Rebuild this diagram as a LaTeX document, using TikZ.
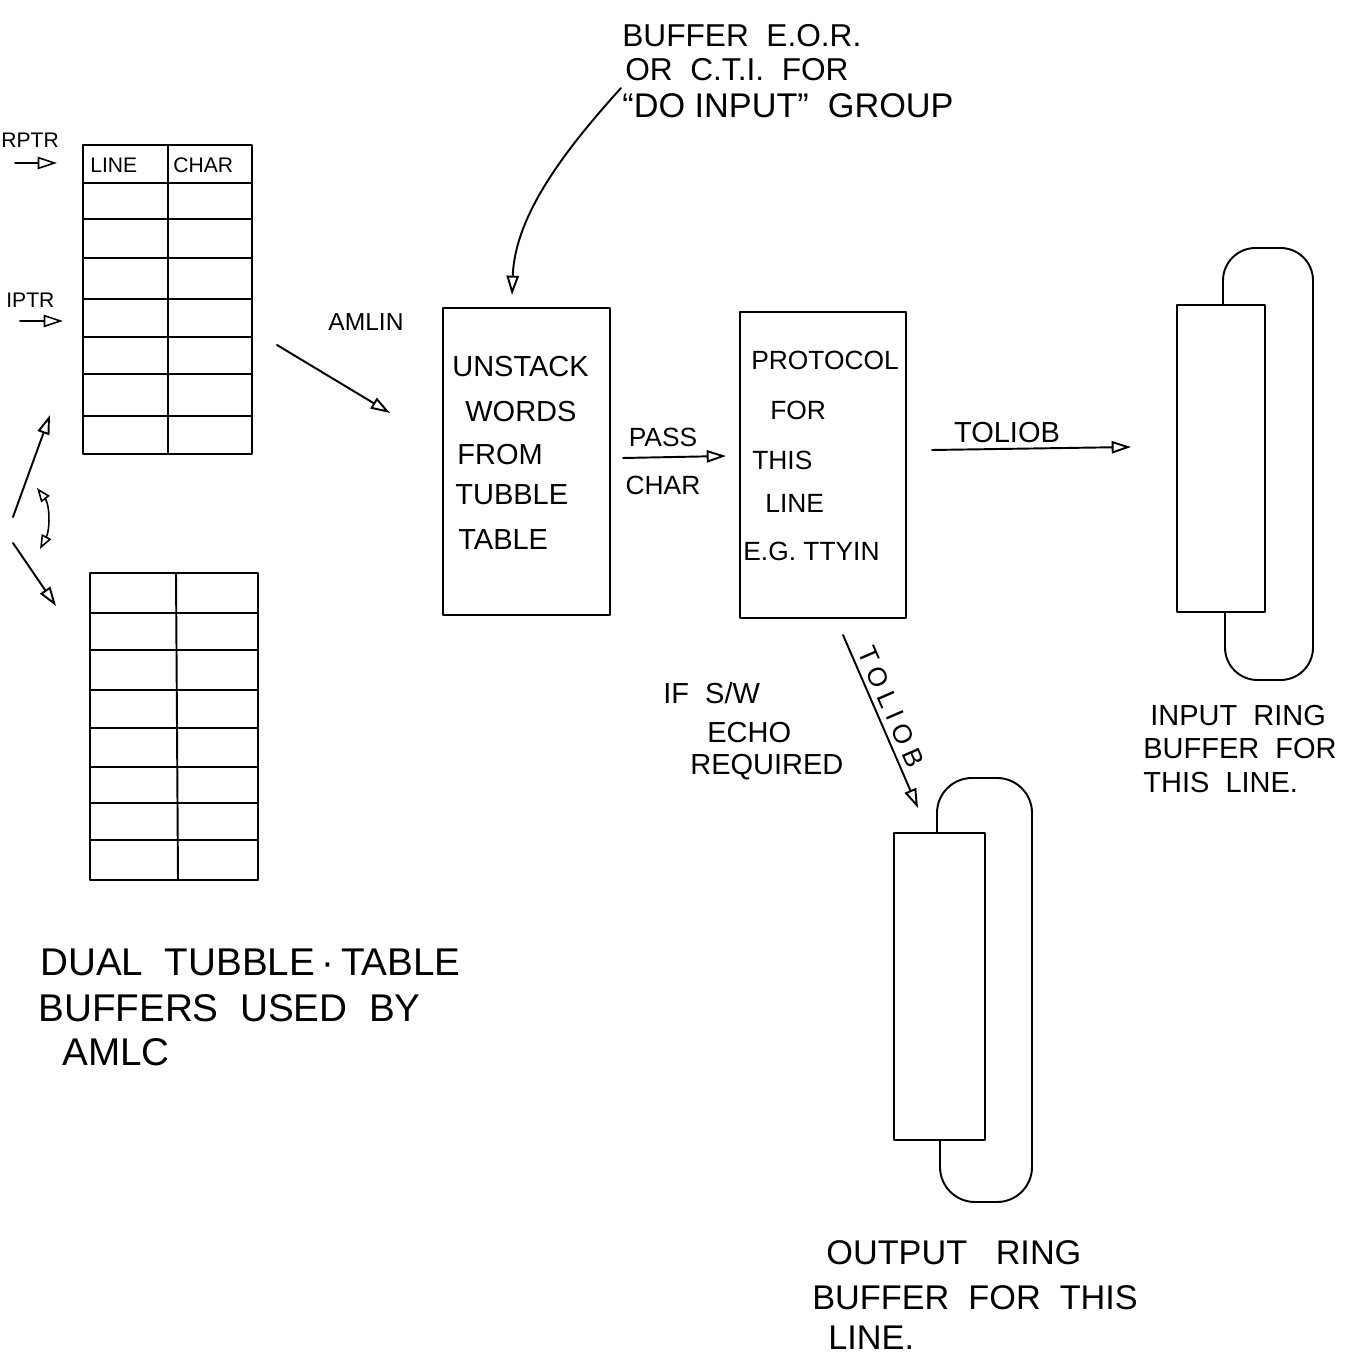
\documentclass[tikz,border=0pt]{standalone}
\usepackage{fontspec}
\setmainfont{Liberation Sans}
\usetikzlibrary{arrows.meta}
\tikzset{
  ink/.style={line width=1.1pt, line cap=round, line join=round},
  thinink/.style={line width=0.9pt, line cap=round},
  hd/.style={-{Triangle[open,length=11pt,width=7pt]}},
  hdd/.style={{Triangle[open,length=8pt,width=6pt]}-{Triangle[open,length=8pt,width=6pt]}},
  procbox/.style={draw, ink, minimum width=3.34cm, minimum height=6.14cm, inner sep=0pt},
  ringbox/.style={draw, ink, fill=white, inner sep=0pt},
  lbl/.style={inner sep=0pt, anchor=west},
  fA/.style={font=\fontsize{12}{14}\selectfont},
  fB/.style={font=\fontsize{14}{16}\selectfont},
  fC/.style={font=\fontsize{15}{18}\selectfont},
  fD/.style={font=\fontsize{16.5}{19}\selectfont},
  fE/.style={font=\fontsize{18}{21}\selectfont},
  fF/.style={font=\fontsize{19.5}{23}\selectfont},
  fG/.style={font=\fontsize{22}{26}\selectfont},
  fS/.style={font=\fontsize{15}{18}\selectfont\addfontfeature{LetterSpace=25}},
}
\begin{document}
\begin{tikzpicture}[x=0.02cm,y=-0.02cm]
\useasboundingbox (0,0) rectangle (1347,1364);

% ---------- top tubble table ----------
\draw[ink] (83,145) rectangle (252,454);
\draw[ink] (168,145) -- (168,454);
\foreach \yy in {183,219,258,299,337,374,416}
  \draw[ink] (83,\yy) -- (252,\yy);
\node[lbl,fA] (hline) at (90,165) {LINE};
\node[lbl,fA] (hchar) at (173,165) {CHAR};

% pointers
\node[lbl,fA] (rptr) at (1,140) {RPTR};
\coordinate (rpa) at (15,163);
\coordinate (rpb) at (57,163);
\draw[thinink,hd] (rpa) -- (rpb);
\node[lbl,fA] (iptr) at (6,300) {IPTR};
\coordinate (ipa) at (20,321);
\coordinate (ipb) at (63,321);
\draw[thinink,hd] (ipa) -- (ipb);

% ---------- bottom tubble table ----------
\draw[ink] (90,573) rectangle (258,880);
\draw[ink] (176,573) -- (178,880);
\foreach \yy in {613,650,690,728,767,803,840}
  \draw[ink] (90,\yy) -- (258,\yy);

% switching arrows
\coordinate (swa) at (13,517);
\coordinate (swb) at (50,415);
\draw[ink,hd] (swa) -- (swb);
\coordinate (swc) at (13,543);
\coordinate (swd) at (56,606);
\draw[ink,hd] (swc) -- (swd);
\coordinate (cva) at (37,488);
\coordinate (cvb) at (40,549);
\draw[thinink,hdd] (cva) .. controls (50,505) and (50,530) .. (cvb);

\node[lbl,fG] (dual1) at (40,962) {DUAL\ \ TUBBLE\,·\,TABLE};
\node[lbl,fG] (dual2) at (38,1008) {BUFFERS\ \ USED\ \ BY};
\node[lbl,fG] (dual3) at (62,1052) {AMLC};

% ---------- unstack box ----------
\node[procbox] (unstack) at (526.5,461.5) {};
\node[lbl,fD] (u1) at (452,367) {UNSTACK};
\node[lbl,fD] (u2) at (465,412) {WORDS};
\node[lbl,fD] (u3) at (457,455) {FROM};
\node[lbl,fD] (u4) at (455,495) {TUBBLE};
\node[lbl,fD] (u5) at (458,540) {TABLE};

% AMLIN
\node[fB,inner sep=0pt] (amlin) at (366,322) {AMLIN};
\coordinate (ama) at (277,345);
\coordinate (amb) at (390,413);
\draw[ink,hd] (ama) -- (amb);

% top note
\node[lbl,fE] (n1) at (622,36) {BUFFER\ \ E.O.R.};
\node[lbl,fE] (n2) at (625,70) {OR\ \ C.T.I.\ \ FOR};
\node[lbl,fF] (n3) at (622,106) {``DO\ INPUT''\ \ GROUP};
\coordinate (nta) at (621,88);
\coordinate (ntb) at (512,295);
\draw[ink,hd] (nta) .. controls (565,150) and (515,215) .. (ntb);

% ---------- protocol box ----------
\node[procbox, minimum width=3.32cm, minimum height=6.12cm] (proto) at (823,465) {};
\node[lbl,fC] (p1) at (751,360) {PROTOCOL};
\node[lbl,fC] (p2) at (770,410) {FOR};
\node[lbl,fC] (p3) at (752,460) {THIS};
\node[lbl,fC] (p4) at (765,503) {LINE};
\node[lbl,fC] (p5) at (743,551) {E.G.\ TTYIN};

% pass char
\coordinate (pca) at (623,458);
\coordinate (pcb) at (726,456);
\draw[ink,hd] (pca) -- (pcb);
\node[fC,inner sep=0pt] (pass) at (663,437) {PASS};
\node[fC,inner sep=0pt] (pchar) at (663,485) {CHAR};

% toliob to input ring
\coordinate (tia) at (932,450);
\coordinate (tib) at (1131,447);
\draw[ink,hd] (tia) -- (tib);
\node[fD,inner sep=0pt] (tol1) at (1007,433) {TOLIOB};

% ---------- input ring buffer ----------
\draw[ink,rounded corners=0.65cm] (1223,330) -- (1223,248) -- (1313,248) -- (1313,680) -- (1225,680) -- (1225,590);
\node[ringbox, minimum width=1.76cm, minimum height=6.14cm] (inring) at (1221,458.5) {};
\node[lbl,fD] (ir1) at (1150,716) {INPUT\ \ RING};
\node[lbl,fD] (ir2) at (1143,749) {BUFFER\ \ FOR};
\node[lbl,fD] (ir3) at (1143,783) {THIS\ \ LINE.};

% ---------- echo path ----------
\coordinate (eca) at (843,635);
\coordinate (ecb) at (918,808);
\draw[ink,hd] (eca) -- node[pos=0.45,sloped,above=3pt,fS,inner sep=0pt] (tol2) {TOLIOB} (ecb);
\node[lbl,fD] (e1) at (663,693) {IF\ \ S/W};
\node[lbl,fD] (e2) at (707,733) {ECHO};
\node[lbl,fD] (e3) at (690,767) {REQUIRED};

% ---------- output ring buffer ----------
\draw[ink,rounded corners=0.7cm] (937,860) -- (937,778) -- (1032,778) -- (1032,1202) -- (940,1202) -- (940,1110);
\node[ringbox, minimum width=1.82cm, minimum height=6.14cm] (outring) at (939.5,986.5) {};
\node[lbl,fF] (or1) at (826,1253) {OUTPUT\ \ \ RING};
\node[lbl,fF] (or2) at (812,1298) {BUFFER\ \ FOR\ \ THIS};
\node[lbl,fF] (or3) at (828,1338) {LINE.};
\end{tikzpicture}
\end{document}
